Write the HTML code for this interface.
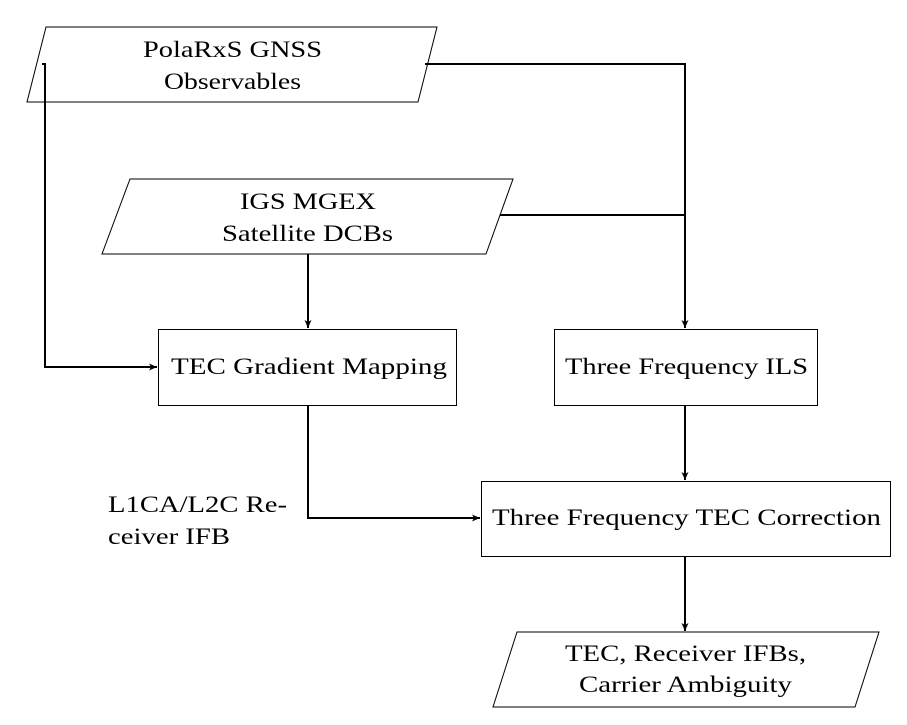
<!DOCTYPE html>
<html><head><meta charset="utf-8"><style>
html,body{margin:0;padding:0;background:#fff;}
svg{display:block;}
</style></head><body>
<svg width="907" height="725" viewBox="0 0 907 725" xmlns="http://www.w3.org/2000/svg">
<defs><marker id="a" markerWidth="10" markerHeight="10" refX="9" refY="5" orient="auto" markerUnits="userSpaceOnUse"><path d="M1,1.5 L9,5 L1,8.5 L3,5 Z" fill="#000"/></marker></defs>
<g fill="none" stroke="#000" stroke-width="1">
<polygon points="46,27 437,27 418,102 27,102"/>
<polygon points="130,179 513,179 486,254 102,254"/>
<rect x="158.5" y="329.5" width="298" height="76"/>
<rect x="554.5" y="329.5" width="263" height="76"/>
<rect x="481.5" y="481.5" width="409" height="75"/>
<polygon points="517,632 879,632 855,707 493,707"/>
</g>
<g fill="none" stroke="#000" stroke-width="2">
<polyline points="42,64 45,64 45,367 157,367" marker-end="url(#a)"/>
<polyline points="425,64 685,64 685,328" marker-end="url(#a)"/>
<line x1="500" y1="215" x2="685" y2="215"/>
<line x1="308" y1="254" x2="308" y2="328" marker-end="url(#a)"/>
<line x1="685" y1="405" x2="685" y2="480" marker-end="url(#a)"/>
<polyline points="308,405 308,518 480,518" marker-end="url(#a)"/>
<line x1="685" y1="556" x2="685" y2="631" marker-end="url(#a)"/>
</g>
<g font-family="'Liberation Serif','DejaVu Serif',serif" font-size="23" fill="#000" lengthAdjust="spacingAndGlyphs">
<text x="143" y="57" textLength="179" lengthAdjust="spacingAndGlyphs">PolaRxS GNSS</text>
<text x="164" y="89" textLength="137" lengthAdjust="spacingAndGlyphs">Observables</text>
<text x="240" y="209" textLength="136" lengthAdjust="spacingAndGlyphs">IGS MGEX</text>
<text x="222" y="241" textLength="171" lengthAdjust="spacingAndGlyphs">Satellite DCBs</text>
<text x="171" y="374" textLength="276" lengthAdjust="spacingAndGlyphs">TEC Gradient Mapping</text>
<text x="565" y="374" textLength="243" lengthAdjust="spacingAndGlyphs">Three Frequency ILS</text>
<text x="492" y="525" textLength="389" lengthAdjust="spacingAndGlyphs">Three Frequency TEC Correction</text>
<text x="565" y="661" textLength="241" lengthAdjust="spacingAndGlyphs">TEC, Receiver IFBs,</text>
<text x="579" y="692" textLength="213" lengthAdjust="spacingAndGlyphs">Carrier Ambiguity</text>
<text x="108" y="512" textLength="179" lengthAdjust="spacingAndGlyphs">L1CA/L2C Re-</text>
<text x="108" y="544" textLength="122" lengthAdjust="spacingAndGlyphs">ceiver IFB</text>
</g>
</svg>
</body></html>
